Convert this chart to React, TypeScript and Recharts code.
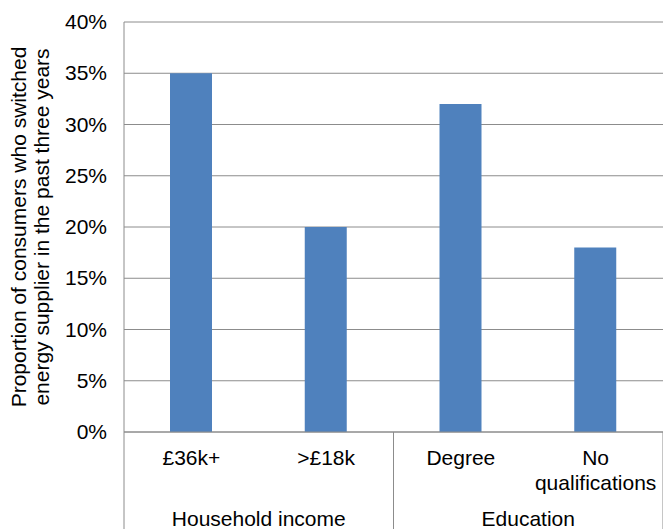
import { BarChart, Bar, XAxis, YAxis, CartesianGrid } from "recharts";

const CATEGORIES = ["£36k+", ">£18k", "Degree", "No qualifications"];
const GROUPS = ["Household income", "Household income", "Education", "Education"];
const SWITCHED = [0.35, 0.2, 0.32, 0.18];
const Y_TICKS = [0, 0.05, 0.1, 0.15, 0.2, 0.25, 0.3, 0.35, 0.4];
const AXIS_TITLE = [
  "Proportion of consumers who switched",
  "energy supplier in the past three years",
];

const data = CATEGORIES.map((name, i) => ({
  name,
  group: GROUPS[i],
  value: SWITCHED[i],
}));

const WIDTH = 663;
const HEIGHT = 529;
const Y_AXIS_W = 124;
const X_AXIS_H = 97;
const TOP = 22;
const BAND = (WIDTH - Y_AXIS_W) / CATEGORIES.length;

const FONT = "'Liberation Sans', Arial, sans-serif";
const FONT_SIZE = 21;
const LINE = "#8c8c8c";
const BAR = "#4f81bd";

const pct = (v: number) => `${Math.round(v * 100)}%`;

function YTick(props: any) {
  const { x, y, payload } = props;
  return (
    <text
      x={x - 17}
      y={y}
      dy={7}
      textAnchor="end"
      fontFamily={FONT}
      fontSize={FONT_SIZE}
      fill="#000"
    >
      {pct(payload.value)}
    </text>
  );
}

// category label plus the group row underneath, with separators between groups
function XTick(props: any) {
  const { x, y, payload, index } = props;
  const group = GROUPS[index];
  const first = index === 0 || GROUPS[index - 1] !== group;
  const last = index === GROUPS.length - 1 || GROUPS[index + 1] !== group;
  const size = GROUPS.filter((g) => g === group).length;
  const words = String(payload.value).split(" ");
  const lines = words.length > 1 ? [words[0], words.slice(1).join(" ")] : words;

  return (
    <g>
      {lines.map((l, i) => (
        <text
          key={i}
          x={x}
          y={y + 33 + i * 25}
          textAnchor="middle"
          fontFamily={FONT}
          fontSize={FONT_SIZE}
          fill="#000"
        >
          {l}
        </text>
      ))}
      {first && (
        <text
          x={x + ((size - 1) * BAND) / 2}
          y={y + 94}
          textAnchor="middle"
          fontFamily={FONT}
          fontSize={FONT_SIZE}
          fill="#000"
        >
          {group}
        </text>
      )}
      {index === 0 && (
        <line x1={x - BAND / 2} x2={x - BAND / 2} y1={y} y2={y + X_AXIS_H} stroke={LINE} />
      )}
      {last && (
        <line x1={x + BAND / 2} x2={x + BAND / 2} y1={y} y2={y + X_AXIS_H} stroke={LINE} />
      )}
    </g>
  );
}

function AxisTitle(props: any) {
  const vb = props.viewBox || { x: 0, y: TOP, width: Y_AXIS_W, height: 410 };
  const cy = vb.y + vb.height / 2;
  return (
    <g>
      {AXIS_TITLE.map((t, i) => {
        const x = 26 + i * 23;
        return (
          <text
            key={i}
            x={x}
            y={cy}
            transform={`rotate(-90, ${x}, ${cy})`}
            textAnchor="middle"
            fontFamily={FONT}
            fontSize={FONT_SIZE}
            fill="#000"
          >
            {t}
          </text>
        );
      })}
    </g>
  );
}

export default function App() {
  return (
    <div style={{ position: "absolute", left: 0, top: 0, background: "#fff" }}>
      <BarChart
        width={WIDTH}
        height={HEIGHT}
        data={data}
        margin={{ top: TOP, right: 0, bottom: 0, left: 0 }}
      >
        <CartesianGrid vertical={false} stroke={LINE} strokeDasharray="" />
        <XAxis
          dataKey="name"
          height={X_AXIS_H}
          interval={0}
          tickLine={false}
          tickSize={0}
          tickMargin={0}
          axisLine={{ stroke: LINE }}
          tick={<XTick />}
        />
        <YAxis
          width={Y_AXIS_W}
          domain={[0, 0.4]}
          ticks={Y_TICKS}
          tickLine={false}
          tickSize={0}
          tickMargin={0}
          axisLine={{ stroke: LINE }}
          tick={<YTick />}
          label={<AxisTitle />}
        />
        <Bar dataKey="value" fill={BAR} barSize={42} isAnimationActive={false} />
      </BarChart>
    </div>
  );
}
